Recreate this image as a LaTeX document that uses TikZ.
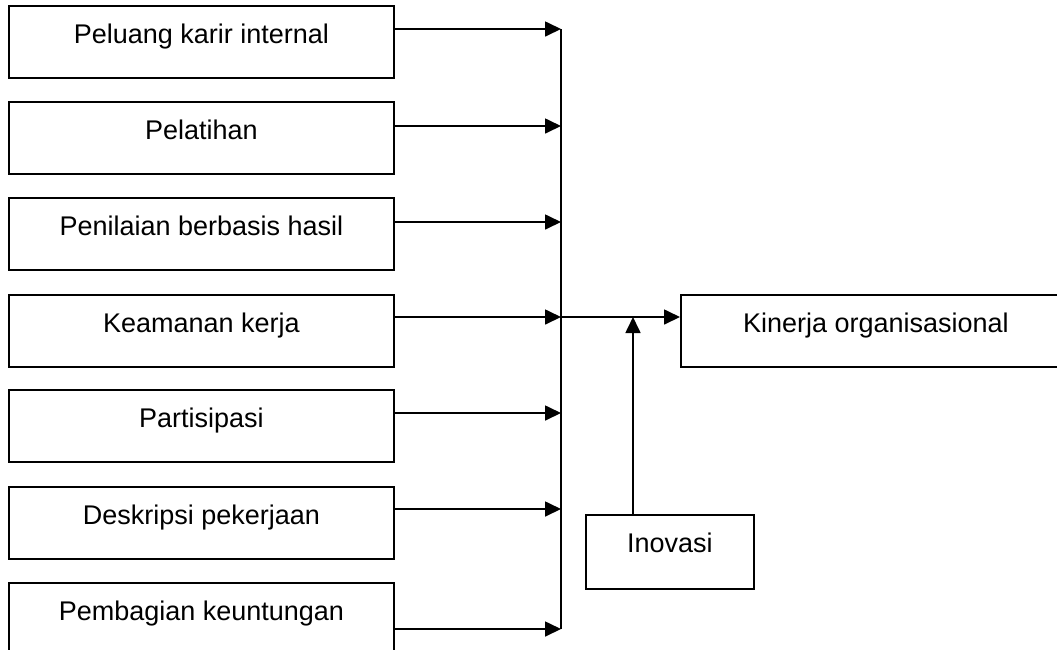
\documentclass[tikz,border=0pt]{standalone}
\usepackage{fontspec}
\setmainfont{Liberation Sans}
\usetikzlibrary{arrows.meta}
\tikzset{
  box/.style={draw, line width=1.8pt, inner xsep=0pt, inner ysep=0pt,
    anchor=north west, text height=38pt, text depth=34pt,
    font=\fontsize{27pt}{32pt}\selectfont},
  leftbox/.style={box, minimum width=385pt},
  conn/.style={line width=1.7pt, -{Triangle[length=16pt,width=15pt]}},
  trunk/.style={line width=2.2pt}
}
\begin{document}
\begin{tikzpicture}[x=1pt,y=-1pt]
\useasboundingbox (0,0) rectangle (1057,649);
\clip (0,0) rectangle (1057,649);
\node[leftbox] (b1) at (8,5) {Peluang karir internal};
\node[leftbox] (b2) at (8,101) {Pelatihan};
\node[leftbox] (b3) at (8,197) {Penilaian berbasis hasil};
\node[leftbox] (b4) at (8,294) {Keamanan kerja};
\node[leftbox] (b5) at (8,389) {Partisipasi};
\node[leftbox] (b6) at (8,486) {Deskripsi pekerjaan};
\node[leftbox] (b7) at (8,582) {Pembagian keuntungan};
\node[box, minimum width=390pt] (k) at (680,294) {Kinerja organisasional};
\node[box, minimum width=168pt, text depth=36pt] (inov) at (585,514) {Inovasi};
\coordinate (j1) at (561,29);
\coordinate (j2) at (561,126);
\coordinate (j3) at (561,222);
\coordinate (j4) at (561,317);
\coordinate (j5) at (561,413);
\coordinate (j6) at (561,509);
\coordinate (j7) at (561,629);
\coordinate (m) at (633,317);
\draw[trunk] (j1) -- (j7);
\foreach \i in {1,...,7} {
  \draw[conn] (b\i.east |- j\i) -- (j\i);
}
\draw[conn] (j4) -- (k.west |- j4);
\draw[conn] (inov.north -| m) -- (m);
\end{tikzpicture}
\end{document}
